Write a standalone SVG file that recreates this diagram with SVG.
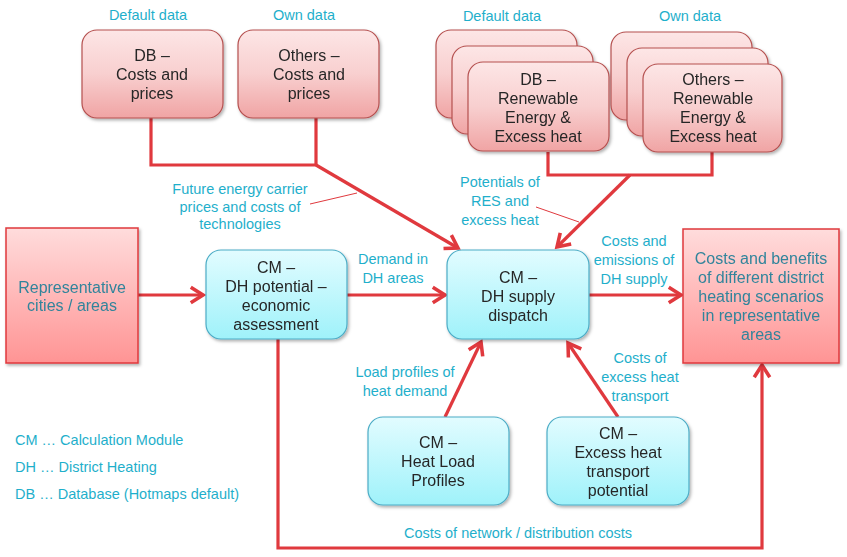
<svg xmlns="http://www.w3.org/2000/svg" width="847" height="557" viewBox="0 0 847 557">
<style>
.pk{fill:url(#gPink);stroke:#B5504F;stroke-width:1.2}
.cy{fill:url(#gCyan);stroke:#4BACC6;stroke-width:1.2}
.rd{fill:url(#gRed);stroke:#E0383C;stroke-width:1.5}
.nt{font-family:"Liberation Sans",Arial,sans-serif;font-size:16px;fill:#262626;text-anchor:middle}
.rt{font-family:"Liberation Sans",Arial,sans-serif;font-size:16px;fill:#31849B;text-anchor:middle}
.lb{font-family:"Liberation Sans",Arial,sans-serif;font-size:14.5px;fill:#1FAFCB;text-anchor:middle}
.lg{font-family:"Liberation Sans",Arial,sans-serif;font-size:14.5px;fill:#1FAFCB}
.ln{fill:none;stroke:#E0393E;stroke-width:3.2}
.ar{fill:none;stroke:#E0393E;stroke-width:3.2;marker-end:url(#ah)}
.ld{fill:none;stroke:#E0393E;stroke-width:1}
</style>
<defs>
<linearGradient id="gPink" x1="0" y1="0" x2="0" y2="1"><stop offset="0" stop-color="#FDE6E6"/><stop offset="0.5" stop-color="#F8CFCF"/><stop offset="1" stop-color="#F0A4A4"/></linearGradient>
<linearGradient id="gCyan" x1="0" y1="0" x2="0" y2="1"><stop offset="0" stop-color="#E2FCFF"/><stop offset="1" stop-color="#9FF2FA"/></linearGradient>
<linearGradient id="gRed" x1="0" y1="0" x2="0" y2="1"><stop offset="0" stop-color="#FFDCDC"/><stop offset="1" stop-color="#FF9494"/></linearGradient>
<filter id="sh" x="-10%" y="-10%" width="125%" height="130%"><feDropShadow dx="1.5" dy="2" stdDeviation="1.5" flood-color="#000" flood-opacity="0.3"/></filter>
<marker id="ah" markerUnits="userSpaceOnUse" markerWidth="20" markerHeight="20" viewBox="-14 -9 16 18" refX="0" refY="0" orient="auto">
<path d="M-11,-7 L0,0 L-11,7" fill="none" stroke="#E0393E" stroke-width="3.2" stroke-linejoin="miter"/>
</marker>
</defs>
<rect width="847" height="557" fill="#fff"/>

<g id="labels-top">
<text class="lb" x="148" y="20">Default data</text>
<text class="lb" x="304" y="20">Own data</text>
<text class="lb" x="502" y="21">Default data</text>
<text class="lb" x="690" y="21">Own data</text>
</g>

<g id="connectors">
<polyline class="ln" points="151,118 151,165 316,165 316,118"/>
<line class="ar" x1="316" y1="165" x2="458" y2="248"/>
<polyline class="ln" points="548,152 548,175 712,175 712,152"/>
<line class="ar" x1="630" y1="175" x2="557" y2="247"/>
<line class="ar" x1="138" y1="295" x2="203" y2="295"/>
<line class="ar" x1="347" y1="295" x2="445" y2="295"/>
<line class="ar" x1="589" y1="295" x2="681" y2="295"/>
<line class="ar" x1="445" y1="417" x2="481" y2="342"/>
<line class="ar" x1="618" y1="417" x2="568" y2="343"/>
<polyline class="ar" points="278,339 278,548 762,548 762,365"/>
<line class="ld" x1="310" y1="204" x2="357" y2="193"/>
<line class="ld" x1="536" y1="207" x2="579" y2="222"/>
</g>

<g id="db-costs" filter="url(#sh)">
<rect class="pk" x="82" y="30" width="141" height="88" rx="15"/>
<text class="nt" x="152" y="61">DB –</text>
<text class="nt" x="152" y="80">Costs and</text>
<text class="nt" x="152" y="99">prices</text>
</g>
<g id="others-costs" filter="url(#sh)">
<rect class="pk" x="238" y="30" width="141" height="88" rx="15"/>
<text class="nt" x="309" y="61">Others –</text>
<text class="nt" x="309" y="80">Costs and</text>
<text class="nt" x="309" y="99">prices</text>
</g>

<g id="db-res" filter="url(#sh)">
<rect class="pk" x="436" y="30" width="141" height="88" rx="15"/>
<rect class="pk" x="452" y="46" width="141" height="88" rx="15"/>
<rect class="pk" x="468" y="62" width="141" height="89" rx="15"/>
<text class="nt" x="538" y="85">DB –</text>
<text class="nt" x="538" y="104">Renewable</text>
<text class="nt" x="538" y="123">Energy &amp;</text>
<text class="nt" x="538" y="142">Excess heat</text>
</g>
<g id="others-res" filter="url(#sh)">
<rect class="pk" x="611" y="32" width="141" height="88" rx="15"/>
<rect class="pk" x="627" y="48" width="141" height="88" rx="15"/>
<rect class="pk" x="643" y="64" width="139" height="88" rx="15"/>
<text class="nt" x="713" y="85">Others –</text>
<text class="nt" x="713" y="104">Renewable</text>
<text class="nt" x="713" y="123">Energy &amp;</text>
<text class="nt" x="713" y="142">Excess heat</text>
</g>

<g id="edge-labels">
<text class="lb" x="240" y="194">Future energy carrier</text>
<text class="lb" x="240" y="212">prices and costs of</text>
<text class="lb" x="240" y="229">technologies</text>
<text class="lb" x="500" y="187">Potentials of</text>
<text class="lb" x="500" y="206">RES and</text>
<text class="lb" x="500" y="225">excess heat</text>
<text class="lb" x="393" y="264">Demand in</text>
<text class="lb" x="393" y="283">DH areas</text>
<text class="lb" x="634" y="246">Costs and</text>
<text class="lb" x="634" y="265">emissions of</text>
<text class="lb" x="634" y="284">DH supply</text>
<text class="lb" x="405" y="377">Load profiles of</text>
<text class="lb" x="405" y="396">heat demand</text>
<text class="lb" x="640" y="363">Costs of</text>
<text class="lb" x="640" y="382">excess heat</text>
<text class="lb" x="640" y="401">transport</text>
<text class="lb" x="518" y="538">Costs of network / distribution costs</text>
</g>

<g id="representative" filter="url(#sh)">
<rect class="rd" x="6" y="228" width="132" height="135"/>
<text class="rt" x="72" y="293">Representative</text>
<text class="rt" x="72" y="311">cities / areas</text>
</g>

<g id="dh-potential" filter="url(#sh)">
<rect class="cy" x="206" y="250" width="141" height="89" rx="15"/>
<text class="nt" x="276" y="273">CM –</text>
<text class="nt" x="276" y="292">DH potential –</text>
<text class="nt" x="276" y="311">economic</text>
<text class="nt" x="276" y="330">assessment</text>
</g>

<g id="dh-supply" filter="url(#sh)">
<rect class="cy" x="447" y="250" width="142" height="89" rx="15"/>
<text class="nt" x="518" y="283">CM –</text>
<text class="nt" x="518" y="302">DH supply</text>
<text class="nt" x="518" y="321">dispatch</text>
</g>

<g id="costs-benefits" filter="url(#sh)">
<rect class="rd" x="683" y="229" width="156" height="134"/>
<text class="rt" x="761" y="264">Costs and benefits</text>
<text class="rt" x="761" y="283">of different district</text>
<text class="rt" x="761" y="302">heating scenarios</text>
<text class="rt" x="761" y="321">in representative</text>
<text class="rt" x="761" y="340">areas</text>
</g>

<g id="heat-load" filter="url(#sh)">
<rect class="cy" x="368" y="417" width="141" height="88" rx="15"/>
<text class="nt" x="438" y="448">CM –</text>
<text class="nt" x="438" y="467">Heat Load</text>
<text class="nt" x="438" y="486">Profiles</text>
</g>

<g id="excess-heat" filter="url(#sh)">
<rect class="cy" x="547" y="417" width="142" height="88" rx="15"/>
<text class="nt" x="618" y="439">CM –</text>
<text class="nt" x="618" y="458">Excess heat</text>
<text class="nt" x="618" y="477">transport</text>
<text class="nt" x="618" y="496">potential</text>
</g>

<g id="legend">
<text class="lg" x="15" y="445">CM … Calculation Module</text>
<text class="lg" x="15" y="472">DH … District Heating</text>
<text class="lg" x="15" y="499">DB … Database (Hotmaps default)</text>
</g>
</svg>
